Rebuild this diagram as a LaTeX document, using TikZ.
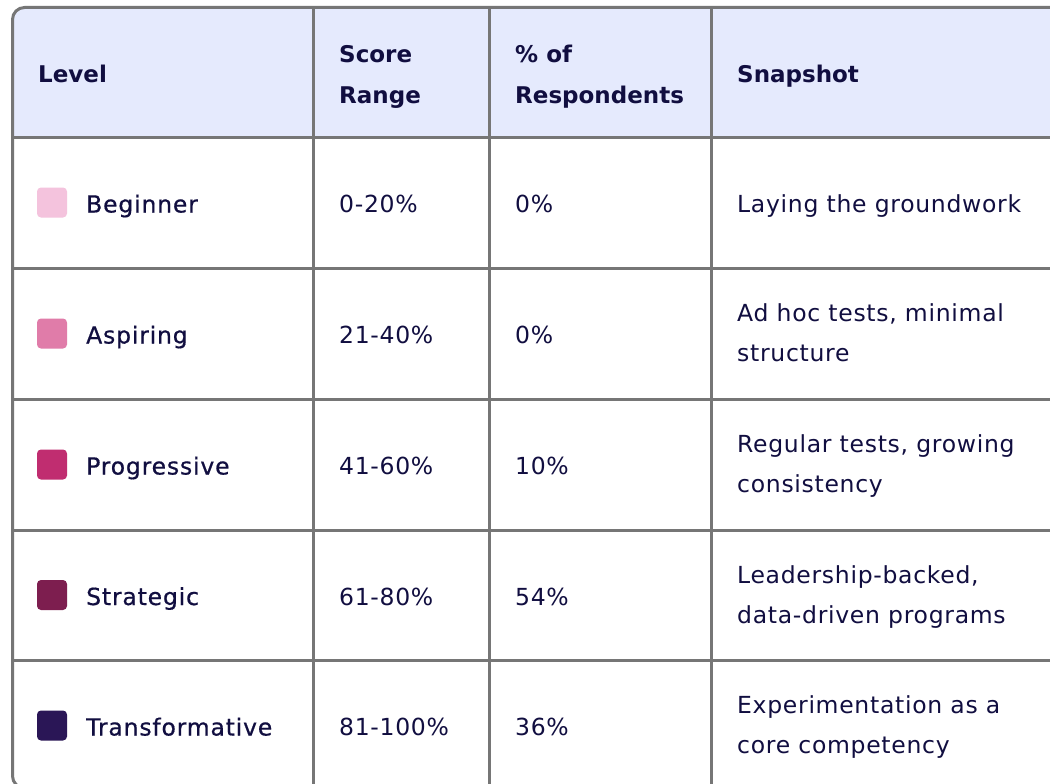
\documentclass[tikz,border=0pt]{standalone}
\usepackage{fontspec}
\setmainfont{DejaVu Sans}[LetterSpace=3, BoldFeatures={LetterSpace=0}]
\newfontfamily\medfont{DejaVu Sans}[LetterSpace=3.5, FakeBold=0.6]
\definecolor{ink}{HTML}{110E40}
\definecolor{headbg}{HTML}{E5EAFD}
\definecolor{gridgray}{HTML}{767676}
\definecolor{lvA}{HTML}{F4C3DD}
\definecolor{lvB}{HTML}{E07CA9}
\definecolor{lvC}{HTML}{C02D70}
\definecolor{lvD}{HTML}{7D1E4F}
\definecolor{lvE}{HTML}{2A1656}
\tikzset{
  gridline/.style={draw=gridgray, line width=3pt},
  celltext/.style={inner sep=0pt, anchor=base west, text=ink, align=left,
    font=\fontsize{23.5}{40}\selectfont},
  leveltext/.style={celltext, font=\fontsize{23.5}{40}\selectfont\medfont},
  headtext/.style={celltext, font=\fontsize{23}{41}\selectfont\bfseries},
  swatch/.style={minimum width=30pt, minimum height=30pt, inner sep=0pt,
    rounded corners=4pt, draw=none},
}
\begin{document}
\begin{tikzpicture}[x=1pt,y=-1pt]
\useasboundingbox (0,0) rectangle (1050,784);
\fill[white] (0,0) rectangle (1050,784);
\begin{scope}
  \clip[rounded corners=12pt] (12.5,7.5) rectangle (1100,788);
  \fill[headbg] (0,0) rectangle (1100,137);
\end{scope}
% grid
\foreach \yy in {137,268,399,530,660} \draw[gridline] (12.5,\yy) -- (1100,\yy);
\foreach \xx in {313,489,711} \draw[gridline] (\xx,7.5) -- (\xx,788);
\draw[gridline, rounded corners=12pt] (12.5,7.5) rectangle (1100,788);
% header
\node[headtext] (hLevel) at (38,82) {Level};
\node[headtext] (hScore) at (339,103) {Score\\Range};
\node[headtext] (hPct) at (515,103) {\% of\\Respondents};
\node[headtext] (hSnap) at (737,82) {Snapshot};
% rows
\node[swatch, fill=lvA] (sw1) at (52,202.5) {};
\node[swatch, fill=lvB] (sw2) at (52,333.5) {};
\node[swatch, fill=lvC] (sw3) at (52,464.5) {};
\node[swatch, fill=lvD] (sw4) at (52,595) {};
\node[swatch, fill=lvE] (sw5) at (52,725.5) {};
\node[leveltext] (l1) at (86,212.5) {Beginner};
\node[leveltext] (l2) at (86,343.5) {Aspiring};
\node[leveltext] (l3) at (86,474.5) {Progressive};
\node[leveltext] (l4) at (86,605) {Strategic};
\node[leveltext] (l5) at (86,735.5) {Transformative};
\node[celltext] (r1) at (339,212.5) {0-20\%};
\node[celltext] (r2) at (339,343.5) {21-40\%};
\node[celltext] (r3) at (339,474.5) {41-60\%};
\node[celltext] (r4) at (339,605) {61-80\%};
\node[celltext] (r5) at (339,735.5) {81-100\%};
\node[celltext] (p1) at (515,212.5) {0\%};
\node[celltext] (p2) at (515,343.5) {0\%};
\node[celltext] (p3) at (515,474.5) {10\%};
\node[celltext] (p4) at (515,605) {54\%};
\node[celltext] (p5) at (515,735.5) {36\%};
\node[celltext] (s1) at (737,212.5) {Laying the groundwork};
\node[celltext] (s2) at (737,361.5) {Ad hoc tests, minimal\\structure};
\node[celltext] (s3) at (737,492.5) {Regular tests, growing\\consistency};
\node[celltext] (s4) at (737,623) {Leadership-backed,\\data-driven programs};
\node[celltext] (s5) at (737,753.5) {Experimentation as a\\core competency};
\end{tikzpicture}
\end{document}
